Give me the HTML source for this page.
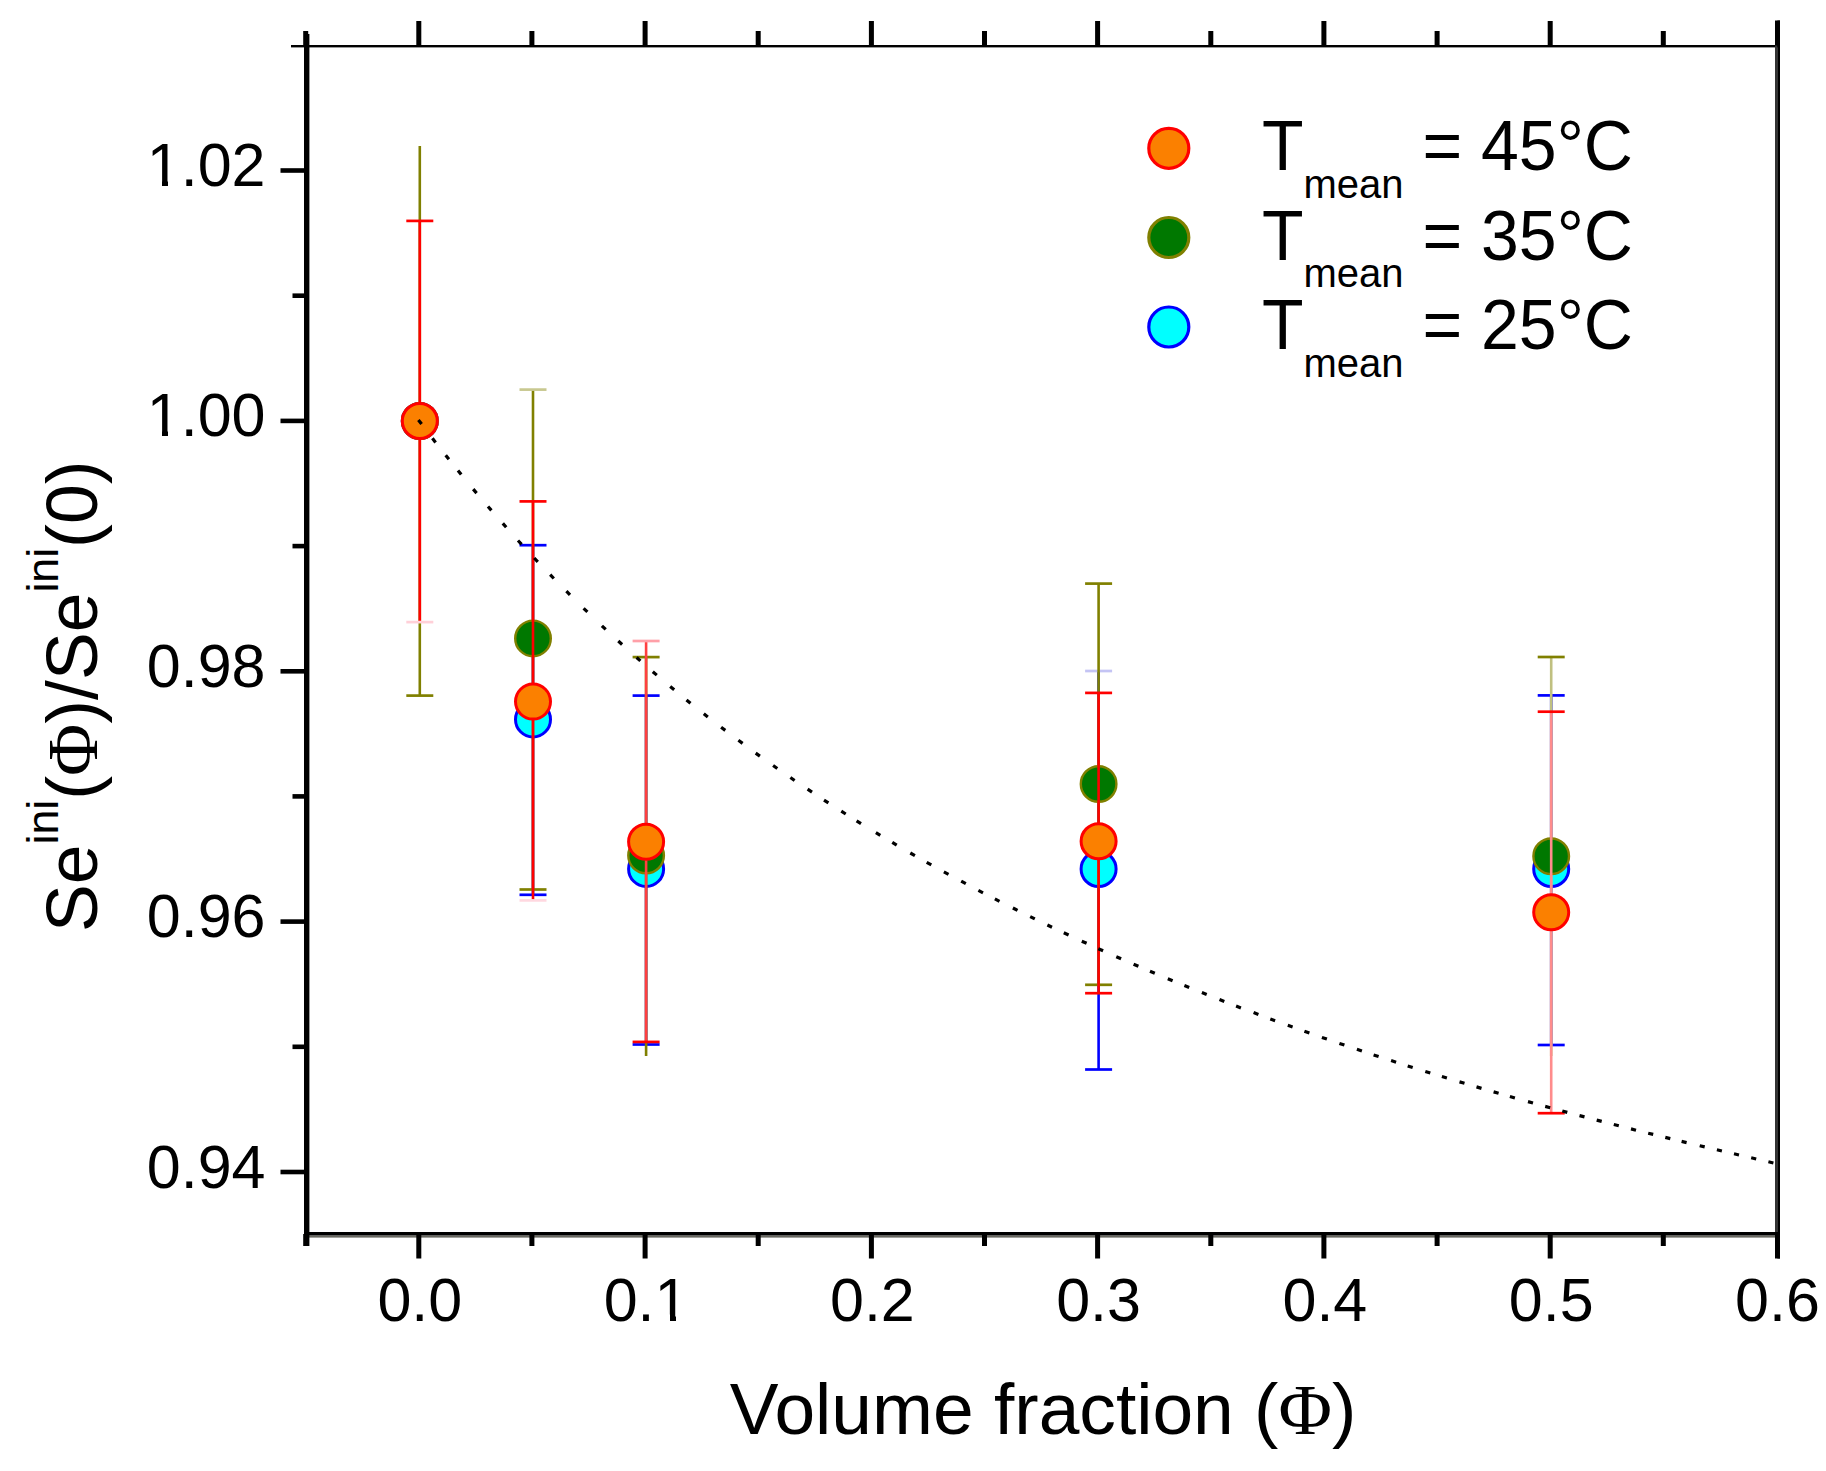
<!DOCTYPE html>
<html><head><meta charset="utf-8"><style>
html,body{margin:0;padding:0;background:#fff;width:1826px;height:1471px;overflow:hidden}
svg{display:block}
</style></head><body>
<svg width="1826" height="1471" viewBox="0 0 1826 1471">
<rect width="100%" height="100%" fill="#fff"/>
<line x1="533.0" y1="545.2" x2="533.0" y2="894.8" stroke="#0000ff" stroke-width="2.6" opacity="1"/>
<line x1="519.5" y1="545.2" x2="546.5" y2="545.2" stroke="#0000ff" stroke-width="2.7"/>
<line x1="519.5" y1="894.8" x2="546.5" y2="894.8" stroke="#0000ff" stroke-width="2.7"/>
<line x1="646.1" y1="695.6" x2="646.1" y2="1044.5" stroke="#0000ff" stroke-width="2.6" opacity="1"/>
<line x1="632.6" y1="695.6" x2="659.6" y2="695.6" stroke="#0000ff" stroke-width="2.7"/>
<line x1="632.6" y1="1044.5" x2="659.6" y2="1044.5" stroke="#0000ff" stroke-width="2.7"/>
<line x1="1098.6" y1="671.0" x2="1098.6" y2="1069.5" stroke="#0000ff" stroke-width="2.6" opacity="1"/>
<line x1="1085.1" y1="671.0" x2="1112.1" y2="671.0" stroke="#c4c4f4" stroke-width="2.7"/>
<line x1="1085.1" y1="1069.5" x2="1112.1" y2="1069.5" stroke="#0000ff" stroke-width="2.7"/>
<line x1="1551.2" y1="695.4" x2="1551.2" y2="1045.0" stroke="#0000ff" stroke-width="2.6" opacity="1"/>
<line x1="1537.7" y1="695.4" x2="1564.7" y2="695.4" stroke="#0000ff" stroke-width="2.7"/>
<line x1="1537.7" y1="1045.0" x2="1564.7" y2="1045.0" stroke="#0000ff" stroke-width="2.7"/>
<circle cx="419.8" cy="421.0" r="17.5" fill="#00ffff" stroke="#0000ff" stroke-width="3"/>
<circle cx="533.0" cy="719.4" r="17.5" fill="#00ffff" stroke="#0000ff" stroke-width="3"/>
<circle cx="646.1" cy="868.9" r="17.5" fill="#00ffff" stroke="#0000ff" stroke-width="3"/>
<circle cx="1098.6" cy="869.0" r="17.5" fill="#00ffff" stroke="#0000ff" stroke-width="3"/>
<circle cx="1551.2" cy="869.0" r="17.5" fill="#00ffff" stroke="#0000ff" stroke-width="3"/>
<line x1="419.8" y1="146.1" x2="419.8" y2="695.6" stroke="#808000" stroke-width="2.6" opacity="1"/>
<line x1="406.3" y1="695.6" x2="433.3" y2="695.6" stroke="#808000" stroke-width="2.7"/>
<line x1="533.0" y1="389.6" x2="533.0" y2="889.5" stroke="#808000" stroke-width="2.6" opacity="1"/>
<line x1="519.5" y1="389.6" x2="546.5" y2="389.6" stroke="#c8c890" stroke-width="2.7"/>
<line x1="519.5" y1="889.5" x2="546.5" y2="889.5" stroke="#808000" stroke-width="2.7"/>
<line x1="646.1" y1="657.1" x2="646.1" y2="1056.1" stroke="#808000" stroke-width="2.6" opacity="1"/>
<line x1="632.6" y1="657.1" x2="659.6" y2="657.1" stroke="#808000" stroke-width="2.7"/>
<line x1="1098.6" y1="583.6" x2="1098.6" y2="984.8" stroke="#808000" stroke-width="2.6" opacity="1"/>
<line x1="1085.1" y1="583.6" x2="1112.1" y2="583.6" stroke="#808000" stroke-width="2.7"/>
<line x1="1085.1" y1="984.8" x2="1112.1" y2="984.8" stroke="#808000" stroke-width="2.7"/>
<line x1="1551.2" y1="657.0" x2="1551.2" y2="1056.0" stroke="#c0c080" stroke-width="2.6" opacity="1"/>
<line x1="1537.7" y1="657.0" x2="1564.7" y2="657.0" stroke="#808000" stroke-width="2.7"/>
<circle cx="419.8" cy="421.0" r="17.8" fill="#007800" stroke="#808000" stroke-width="2.4"/>
<circle cx="533.0" cy="638.4" r="17.8" fill="#007800" stroke="#808000" stroke-width="2.4"/>
<circle cx="646.1" cy="855.5" r="17.8" fill="#007800" stroke="#808000" stroke-width="2.4"/>
<circle cx="1098.6" cy="784.0" r="17.8" fill="#007800" stroke="#808000" stroke-width="2.4"/>
<circle cx="1551.2" cy="856.3" r="17.8" fill="#007800" stroke="#808000" stroke-width="2.4"/>
<line x1="419.8" y1="220.9" x2="419.8" y2="622.1" stroke="#ff0000" stroke-width="2.6" opacity="1"/>
<line x1="406.3" y1="220.9" x2="433.3" y2="220.9" stroke="#ff0000" stroke-width="2.7"/>
<line x1="406.3" y1="622.1" x2="433.3" y2="622.1" stroke="#ffd0d8" stroke-width="2.7"/>
<line x1="533.0" y1="501.4" x2="533.0" y2="900.4" stroke="#ff0000" stroke-width="2.6" opacity="1"/>
<line x1="519.5" y1="501.4" x2="546.5" y2="501.4" stroke="#ff0000" stroke-width="2.7"/>
<line x1="519.5" y1="900.4" x2="546.5" y2="900.4" stroke="#ffd8e0" stroke-width="2.7"/>
<line x1="646.1" y1="641.0" x2="646.1" y2="1041.9" stroke="#ff4040" stroke-width="2.6" opacity="1"/>
<line x1="632.6" y1="641.0" x2="659.6" y2="641.0" stroke="#ffa0a8" stroke-width="2.7"/>
<line x1="632.6" y1="1041.9" x2="659.6" y2="1041.9" stroke="#ff0000" stroke-width="2.7"/>
<line x1="1098.6" y1="692.9" x2="1098.6" y2="993.2" stroke="#ff0000" stroke-width="2.6" opacity="1"/>
<line x1="1085.1" y1="692.9" x2="1112.1" y2="692.9" stroke="#ff0000" stroke-width="2.7"/>
<line x1="1085.1" y1="993.2" x2="1112.1" y2="993.2" stroke="#ff0000" stroke-width="2.7"/>
<line x1="1551.2" y1="711.7" x2="1551.2" y2="1113.2" stroke="#ff8c8c" stroke-width="2.6" opacity="1"/>
<line x1="1537.7" y1="711.7" x2="1564.7" y2="711.7" stroke="#ff0000" stroke-width="2.7"/>
<line x1="1537.7" y1="1113.2" x2="1564.7" y2="1113.2" stroke="#ff0000" stroke-width="2.7"/>
<circle cx="419.8" cy="421.0" r="17.5" fill="#fb8000" stroke="#ff0000" stroke-width="3"/>
<circle cx="533.0" cy="701.6" r="17.5" fill="#fb8000" stroke="#ff0000" stroke-width="3"/>
<circle cx="646.1" cy="841.7" r="17.5" fill="#fb8000" stroke="#ff0000" stroke-width="3"/>
<circle cx="1098.6" cy="841.2" r="17.5" fill="#fb8000" stroke="#ff0000" stroke-width="3"/>
<circle cx="1551.2" cy="912.3" r="17.5" fill="#fb8000" stroke="#ff0000" stroke-width="3"/>
<path d="M418.4,420.0L421.6,424.1M432.4,438.3L435.6,442.4M445.7,455.2L448.9,459.3M458.0,470.5L461.2,474.6M473.2,489.1L476.6,493.1M488.0,506.5L491.4,510.4M502.8,523.4L506.2,527.3M518.0,540.5L521.6,544.3M534.2,558.0L537.8,561.8M550.2,574.7L553.8,578.5M566.4,591.2L570.0,594.9M583.6,608.3L587.4,611.9M601.9,625.8L605.7,629.4M618.3,641.0L622.1,644.5M636.6,657.5L640.4,660.9M652.8,671.7L656.8,675.1M670.2,686.5L674.2,689.8M686.5,699.9L690.5,703.2M703.8,713.7L707.8,716.9M721.1,727.3L725.3,730.4M738.4,740.3L742.6,743.4M755.7,753.1L759.9,756.1M773.1,765.5L777.3,768.5M790.4,777.5L794.6,780.5M807.6,789.2L812.0,792.1M824.0,800.1L828.4,802.9M841.3,811.2L845.7,814.0M856.6,820.8L861.0,823.6M875.9,832.6L880.3,835.3M892.3,842.4L896.7,845.1M910.3,853.0L914.9,855.6M926.7,862.3L931.3,864.8M943.9,871.9L948.5,874.3M961.2,881.2L965.8,883.7M978.4,890.4L983.0,892.8M994.9,898.9L999.5,901.3M1012.9,908.0L1017.5,910.4M1030.2,916.6L1034.8,918.9M1047.4,925.0L1052.0,927.2M1063.8,932.8L1068.6,935.0M1081.8,941.2L1086.6,943.3M1098.3,948.7L1103.1,950.8M1116.3,956.7L1121.1,958.8M1133.6,964.3L1138.4,966.3M1150.0,971.3L1154.8,973.3M1167.8,978.7L1172.6,980.7M1184.4,985.6L1189.2,987.5M1201.9,992.6L1206.7,994.5M1219.5,999.6L1224.3,1001.5M1236.1,1006.0L1240.9,1007.9M1253.6,1012.6L1258.4,1014.5M1270.3,1018.9L1275.1,1020.7M1287.8,1025.3L1292.6,1027.0M1304.4,1031.2L1309.4,1033.0M1321.9,1037.4L1326.9,1039.1M1339.4,1043.4L1344.4,1045.1M1356.9,1049.3L1361.9,1051.0M1373.6,1054.9L1378.6,1056.5M1391.1,1060.6L1396.1,1062.2M1407.7,1065.9L1412.7,1067.5M1425.3,1071.4L1430.3,1073.0M1441.9,1076.5L1446.9,1078.0M1459.5,1081.9L1464.5,1083.3M1476.5,1086.9L1481.5,1088.4M1493.6,1091.9L1498.6,1093.3M1509.9,1096.5L1514.9,1098.0M1528.0,1101.6L1533.0,1103.0M1545.2,1106.4L1550.2,1107.7M1562.3,1111.0L1567.3,1112.4M1579.5,1115.6L1584.5,1116.9M1596.7,1120.1L1601.7,1121.4M1613.8,1124.5L1618.8,1125.8M1631.0,1128.9L1636.0,1130.2M1648.2,1133.2L1653.2,1134.4M1665.3,1137.4L1670.3,1138.6M1681.6,1141.4L1686.6,1142.6M1699.7,1145.7L1704.7,1146.9M1716.9,1149.8L1721.9,1151.0M1734.0,1153.8L1739.0,1155.0M1751.2,1157.8L1756.2,1159.0M1768.4,1161.8L1773.4,1163.0" fill="none" stroke="#000" stroke-width="3.2" stroke-linecap="butt"/>
<rect x="304" y="45" width="1476" height="2.4" fill="#000"/>
<rect x="304" y="1232" width="1476" height="3.6" fill="#000"/>
<rect x="309" y="1235.6" width="1466" height="2" fill="#686860"/>
<rect x="304" y="34" width="5.4" height="1212" fill="#000"/>
<rect x="1775" y="45" width="2.6" height="1190" fill="#333"/>
<rect x="1777.4" y="20.5" width="2.6" height="1238" fill="#000"/>
<rect x="1775" y="20.5" width="5" height="25" fill="#000"/>
<rect x="1775" y="1232" width="5" height="26.5" fill="#000"/>
<rect x="291" y="45" width="15" height="2.4" fill="#000"/>
<rect x="303.2" y="31" width="5" height="15" fill="#000"/>
<rect x="303.2" y="1234" width="5" height="12" fill="#000"/>
<rect x="416.3" y="21" width="5" height="25" fill="#000"/>
<rect x="416.3" y="1234" width="5" height="24.5" fill="#000"/>
<rect x="529.4" y="31" width="5" height="15" fill="#000"/>
<rect x="529.4" y="1234" width="5" height="12" fill="#000"/>
<rect x="642.6" y="21" width="5" height="25" fill="#000"/>
<rect x="642.6" y="1234" width="5" height="24.5" fill="#000"/>
<rect x="755.7" y="31" width="5" height="15" fill="#000"/>
<rect x="755.7" y="1234" width="5" height="12" fill="#000"/>
<rect x="868.9" y="21" width="5" height="25" fill="#000"/>
<rect x="868.9" y="1234" width="5" height="24.5" fill="#000"/>
<rect x="982.0" y="31" width="5" height="15" fill="#000"/>
<rect x="982.0" y="1234" width="5" height="12" fill="#000"/>
<rect x="1095.1" y="21" width="5" height="25" fill="#000"/>
<rect x="1095.1" y="1234" width="5" height="24.5" fill="#000"/>
<rect x="1208.3" y="31" width="5" height="15" fill="#000"/>
<rect x="1208.3" y="1234" width="5" height="12" fill="#000"/>
<rect x="1321.4" y="21" width="5" height="25" fill="#000"/>
<rect x="1321.4" y="1234" width="5" height="24.5" fill="#000"/>
<rect x="1434.6" y="31" width="5" height="15" fill="#000"/>
<rect x="1434.6" y="1234" width="5" height="12" fill="#000"/>
<rect x="1547.7" y="21" width="5" height="25" fill="#000"/>
<rect x="1547.7" y="1234" width="5" height="24.5" fill="#000"/>
<rect x="1660.8" y="31" width="5" height="15" fill="#000"/>
<rect x="1660.8" y="1234" width="5" height="12" fill="#000"/>
<rect x="280.5" y="168.2" width="25" height="4.6" fill="#000"/>
<rect x="292.5" y="293.4" width="13" height="4.6" fill="#000"/>
<rect x="280.5" y="418.6" width="25" height="4.6" fill="#000"/>
<rect x="292.5" y="543.8" width="13" height="4.6" fill="#000"/>
<rect x="280.5" y="669.0" width="25" height="4.6" fill="#000"/>
<rect x="292.5" y="794.1" width="13" height="4.6" fill="#000"/>
<rect x="280.5" y="919.3" width="25" height="4.6" fill="#000"/>
<rect x="292.5" y="1044.5" width="13" height="4.6" fill="#000"/>
<rect x="280.5" y="1169.7" width="25" height="4.6" fill="#000"/>
<text x="265.5" y="186.0" font-family="Liberation Sans, Arial, sans-serif" font-size="61" text-anchor="end">1.02</text>
<text x="265.5" y="436.4" font-family="Liberation Sans, Arial, sans-serif" font-size="61" text-anchor="end">1.00</text>
<text x="265.5" y="686.8" font-family="Liberation Sans, Arial, sans-serif" font-size="61" text-anchor="end">0.98</text>
<text x="265.5" y="937.1" font-family="Liberation Sans, Arial, sans-serif" font-size="61" text-anchor="end">0.96</text>
<text x="265.5" y="1187.5" font-family="Liberation Sans, Arial, sans-serif" font-size="61" text-anchor="end">0.94</text>
<text x="419.8" y="1321.3" font-family="Liberation Sans, Arial, sans-serif" font-size="61" text-anchor="middle">0.0</text>
<text x="646.1" y="1321.3" font-family="Liberation Sans, Arial, sans-serif" font-size="61" text-anchor="middle">0.1</text>
<text x="872.4" y="1321.3" font-family="Liberation Sans, Arial, sans-serif" font-size="61" text-anchor="middle">0.2</text>
<text x="1098.6" y="1321.3" font-family="Liberation Sans, Arial, sans-serif" font-size="61" text-anchor="middle">0.3</text>
<text x="1324.9" y="1321.3" font-family="Liberation Sans, Arial, sans-serif" font-size="61" text-anchor="middle">0.4</text>
<text x="1551.2" y="1321.3" font-family="Liberation Sans, Arial, sans-serif" font-size="61" text-anchor="middle">0.5</text>
<text x="1777.5" y="1321.3" font-family="Liberation Sans, Arial, sans-serif" font-size="61" text-anchor="middle">0.6</text>
<text transform="translate(1043,1434) scale(1.016,1)" font-family="Liberation Sans, Arial, sans-serif" font-size="72" text-anchor="middle">Volume fraction (<tspan font-family="Liberation Serif, serif">Φ</tspan>)</text>
<text transform="translate(97,696.2) rotate(-90) scale(0.993,1)" font-family="Liberation Sans, Arial, sans-serif" font-size="72" text-anchor="middle">Se<tspan font-size="45" dy="-39">ini</tspan><tspan dy="39">(</tspan><tspan font-family="Liberation Serif, serif">Φ</tspan>)/Se<tspan font-size="45" dy="-39">ini</tspan><tspan dy="39">(0)</tspan></text>
<circle cx="1168.8" cy="148.3" r="20" fill="#fb8000" stroke="#ff0000" stroke-width="3.2"/>
<text transform="translate(1262,170.3) scale(1,1.03)" font-family="Liberation Sans, Arial, sans-serif" font-size="68">T<tspan font-size="40" dy="27">mean</tspan><tspan dy="-27"> = 45°C</tspan></text>
<circle cx="1168.8" cy="237.5" r="20" fill="#007800" stroke="#808000" stroke-width="3.2"/>
<text transform="translate(1262,259.5) scale(1,1.03)" font-family="Liberation Sans, Arial, sans-serif" font-size="68">T<tspan font-size="40" dy="27">mean</tspan><tspan dy="-27"> = 35°C</tspan></text>
<circle cx="1168.8" cy="327.0" r="20" fill="#00ffff" stroke="#0000ff" stroke-width="3.2"/>
<text transform="translate(1262,349.0) scale(1,1.03)" font-family="Liberation Sans, Arial, sans-serif" font-size="68">T<tspan font-size="40" dy="27">mean</tspan><tspan dy="-27"> = 25°C</tspan></text>
<rect x="150" y="178.5" width="12" height="8.5" fill="#fff"/>
<rect x="168" y="178.5" width="11" height="8.5" fill="#fff"/>
<rect x="150" y="428.5" width="12" height="8.5" fill="#fff"/>
<rect x="168" y="428.5" width="11" height="8.5" fill="#fff"/>
<rect x="658" y="1314.5" width="12" height="8.5" fill="#fff"/>
<rect x="676" y="1314.5" width="11" height="8.5" fill="#fff"/>
</svg>
</body></html>
